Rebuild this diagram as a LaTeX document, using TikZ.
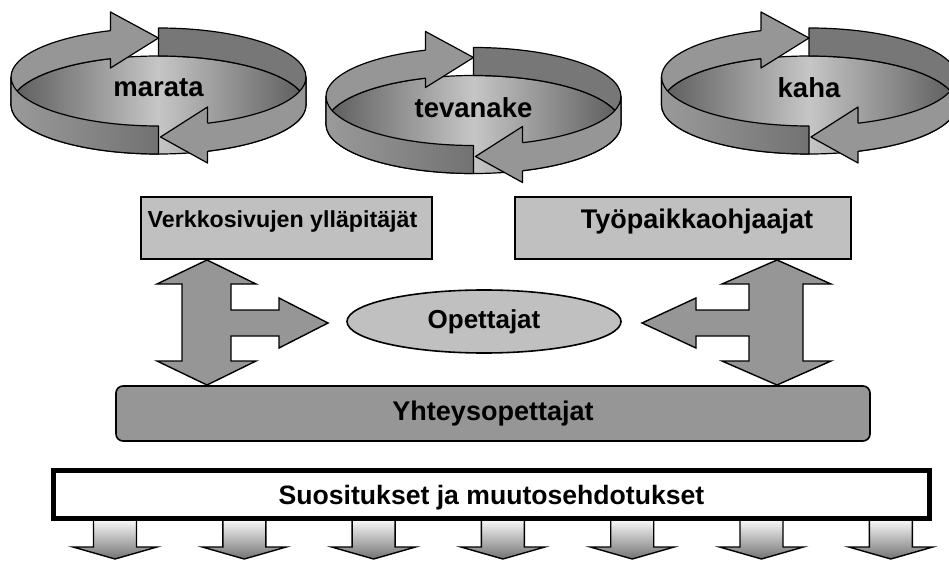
\documentclass[tikz,border=0pt]{standalone}
\usepackage{fontspec}
\setmainfont{Liberation Sans}
\usetikzlibrary{calc,shapes.geometric}
\definecolor{lgray}{HTML}{C0C0C0}
\definecolor{mgray}{HTML}{969696}
\definecolor{dgray}{HTML}{777777}
\definecolor{fdark}{HTML}{5C5C5C}
\definecolor{flight}{HTML}{C6C6C6}
\definecolor{tailA}{HTML}{9A9A9A}
\definecolor{tailB}{HTML}{727272}

\newcommand\ringcycle[4]{%
  \def\ra{147.5}\def\rb{49}\def\rh{28}%
  \pgfmathsetmacro\tA{180+acos(48/\ra)}%
  \pgfmathsetmacro\tAx{180+acos(42/\ra)}%
  \pgfmathsetmacro\tB{acos(49/\ra)}%
  \pgfmathsetmacro\tBx{acos(43/\ra)}%
  \pgfmathsetmacro\yA{#2+\rb*sin(\tA)}%
  \pgfmathsetmacro\yB{#2+\rb*sin(\tB)}%
  % floor
  \draw[ringline, left color=fdark, right color=fdark, middle color=flight]
    ({#1},{#2+\rh}) ellipse[x radius=\ra, y radius=\rb];
  % back left (arrow A shaft)
  \draw[ringline, fill=mgray] ({#1-\ra},{#2})
    arc[start angle=180, end angle=\tAx, x radius=\ra, y radius=\rb] -- ++(0,\rh)
    arc[start angle=\tAx, end angle=180, x radius=\ra, y radius=\rb] -- cycle;
  % back right (arrow B tail)
  \draw[ringline, fill=dgray] ({#1},{#2-\rb})
    arc[start angle=270, end angle=360, x radius=\ra, y radius=\rb] -- ++(0,\rh)
    arc[start angle=360, end angle=270, x radius=\ra, y radius=\rb] -- cycle;
  % front left (arrow A tail)
  \draw[ringline, left color=tailA, right color=tailB] ({#1-\ra},{#2})
    arc[start angle=180, end angle=90, x radius=\ra, y radius=\rb] -- ++(0,\rh)
    arc[start angle=90, end angle=180, x radius=\ra, y radius=\rb] -- cycle;
  % front right (arrow B shaft)
  \draw[ringline, fill=mgray] ({#1+\ra},{#2})
    arc[start angle=0, end angle=\tBx, x radius=\ra, y radius=\rb] -- ++(0,\rh)
    arc[start angle=\tBx, end angle=0, x radius=\ra, y radius=\rb] -- cycle;
  % head A (back, pointing right)
  \fill[mgray] ({#1-48},{#2-65}) -- ({#1},{#2-39}) -- ({#1-48},{#2-9}) -- cycle;
  \draw[ringline] ({#1-48},{\yA}) -- ({#1-48},{#2-65}) -- ({#1},{#2-39})
    -- ({#1-48},{#2-9}) -- ({#1-48},{\yA+\rh});
  % head B (front, pointing left)
  \fill[mgray] ({#1+49},{#2+30}) -- ({#1+2},{#2+60}) -- ({#1+49},{#2+86}) -- cycle;
  \draw[ringline] ({#1+49},{\yB}) -- ({#1+49},{#2+30}) -- ({#1+2},{#2+60})
    -- ({#1+49},{#2+86}) -- ({#1+49},{\yB+\rh});
  \node[ringtext] (#3) at ({#1},{#2+11}) {#4};
}

\tikzset{
  ringline/.style={draw=black, line width=1.2pt, line join=round},
  ringtext/.style={font=\fontsize{27.5}{30}\selectfont\bfseries, inner sep=0pt},
  lbox/.style={draw, line width=1.6pt, fill=lgray, inner sep=0pt,
    font=\fontsize{27}{29}\selectfont\bfseries},
  blockarrow/.style={draw, line width=1.4pt, fill=mgray, line join=miter},
  downarrow/.style={draw, line width=1.4pt, top color=white!96!black,
    bottom color=black!55, line join=miter},
}

\begin{document}
\begin{tikzpicture}[x=1pt,y=-1pt]
\useasboundingbox (0,0) rectangle (949,561);

\ringcycle{158.5}{77}{c1}{marata}
\ringcycle{473.5}{96.5}{c2}{tevanake}
\ringcycle{809}{77}{c3}{kaha}

% boxes
\node[lbox, minimum width=291pt, minimum height=62pt,
      font=\fontsize{23.2}{25}\selectfont\bfseries, text height=17pt, text depth=19pt]
  (verk) at (286.5,228) {Verkkosivujen ylläpitäjät\hspace*{8pt}};
\node[lbox, minimum width=336pt, minimum height=62pt, text height=19pt, text depth=17pt]
  (tyo) at (683,228) {\hspace*{28pt}Työpaikkaohjaajat};
\node[lbox, ellipse, minimum width=274pt, minimum height=63pt,
      font=\fontsize{26}{28}\selectfont\bfseries]
  (ope) at (484,321.5) {Opettajat};
\node[lbox, fill=mgray, rounded corners=7pt, minimum width=754pt, minimum height=55pt]
  (yht) at (493,413.5) {Yhteysopettajat};
\node[lbox, fill=white, line width=5pt, minimum width=876pt, minimum height=48pt,
      font=\fontsize{26.6}{28}\selectfont\bfseries, text height=22pt, text depth=2pt]
  (suos) at (491.5,494) {Suositukset ja muutosehdotukset};

% left double block arrow
\draw[blockarrow] (207,260) -- (256,284) -- (231,284) -- (231,310) -- (279,310)
  -- (279,298) -- (328,323) -- (279,348) -- (279,336) -- (231,336) -- (231,361)
  -- (256,361) -- (207,385) -- (157,361) -- (182,361) -- (182,284) -- (157,284) -- cycle;
% right double block arrow
\draw[blockarrow] (777,260) -- (831,284) -- (803,284) -- (803,361) -- (831,361)
  -- (777,385) -- (722,361) -- (749,361) -- (749,336) -- (696,336) -- (696,348)
  -- (642,323) -- (696,298) -- (696,310) -- (749,310) -- (749,284) -- (722,284) -- cycle;

% bottom arrows
\foreach \i in {0,...,6}{
  \pgfmathsetmacro\ax{115+129.3*\i}
  \draw[downarrow] ({\ax-21.5},521) -- ({\ax-21.5},547) -- ({\ax-42},547)
    -- ({\ax},559) -- ({\ax+42},547) -- ({\ax+21.5},547) -- ({\ax+21.5},521);
}
\end{tikzpicture}
\end{document}
